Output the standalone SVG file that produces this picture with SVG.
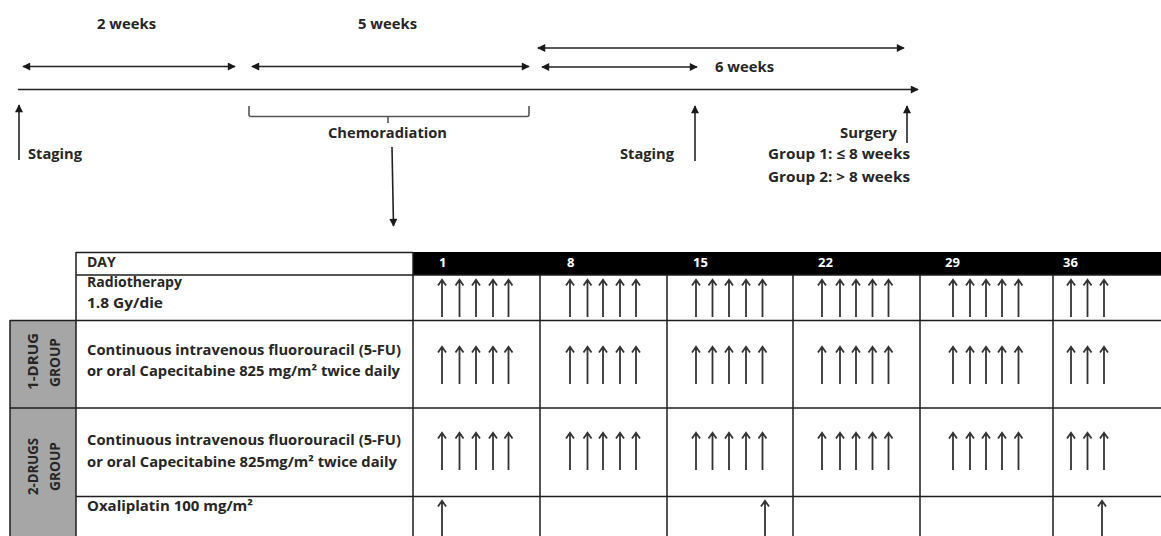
<svg xmlns="http://www.w3.org/2000/svg" width="1161" height="536" viewBox="0 0 1161 536">
<style>
  text { font-family: "Open Sans", "Liberation Sans", sans-serif; font-weight: 700; fill: #262626; }
  .t { font-size: 14.5px; }
  .tb { font-size: 14px; }
  .hd { font-size: 13px; fill: #fff; font-weight: 700; }
  .ln { stroke: #1e1e1e; stroke-width: 1.5; fill: none; }
  .tl { stroke: #222; stroke-width: 1.6; fill: none; }
  .ua { stroke: #333; stroke-width: 1.8; fill: none; }
  .br { stroke: #555; stroke-width: 1.6; fill: none; }
</style>
<defs>
  <marker id="tri" viewBox="0 0 10 10" refX="9" refY="5" markerWidth="9" markerHeight="8" markerUnits="userSpaceOnUse" orient="auto-start-reverse">
    <path d="M0,0 L10,5 L0,10 z" fill="#1a1a1a"/>
  </marker>
  <path id="ua" class="ua" d="M0,38 V0.8 M-4,6.5 L0,0.8 L4,6.5"/>
  <path id="ual" class="ua" d="M0,40 V0.8 M-4,6.5 L0,0.8 L4,6.5"/>
</defs>
<rect width="1161" height="536" fill="#fff"/>

<!-- timeline connectors -->
<g id="connectors">
  <line class="tl" x1="18" y1="89.5" x2="918" y2="89.5" marker-end="url(#tri)"/>
  <line class="tl" x1="23" y1="66.5" x2="235" y2="66.5" marker-start="url(#tri)" marker-end="url(#tri)"/>
  <line class="tl" x1="252" y1="66.5" x2="529" y2="66.5" marker-start="url(#tri)" marker-end="url(#tri)"/>
  <line class="tl" x1="542" y1="67" x2="697" y2="67" marker-start="url(#tri)" marker-end="url(#tri)"/>
  <line class="tl" x1="538" y1="48" x2="904" y2="48" marker-start="url(#tri)" marker-end="url(#tri)"/>
  <line class="tl" x1="19" y1="160" x2="19" y2="105" marker-end="url(#tri)"/>
  <line class="tl" x1="695" y1="161" x2="695" y2="106" marker-end="url(#tri)"/>
  <line class="tl" x1="907" y1="143" x2="907" y2="106" marker-end="url(#tri)"/>
  <path class="br" d="M249,106 V114.5 Q249,116.5 251,116.5 H527 Q529,116.5 529,114.5 V106 M388,116.5 V123"/>
  <line class="tl" x1="392" y1="147" x2="393.5" y2="226" marker-end="url(#tri)"/>
</g>

<!-- timeline labels -->
<g id="label-2weeks"><text class="t" x="97" y="29" textLength="59" lengthAdjust="spacingAndGlyphs">2 weeks</text></g>
<g id="label-5weeks"><text class="t" x="358" y="29" textLength="59" lengthAdjust="spacingAndGlyphs">5 weeks</text></g>
<g id="label-6weeks"><text class="t" x="715" y="71.5" textLength="59" lengthAdjust="spacingAndGlyphs">6 weeks</text></g>
<g id="label-staging1"><text class="t" x="28" y="159" textLength="54" lengthAdjust="spacingAndGlyphs">Staging</text></g>
<g id="label-chemoradiation"><text class="t" x="328" y="138" textLength="119" lengthAdjust="spacingAndGlyphs">Chemoradiation</text></g>
<g id="label-staging2"><text class="t" x="620" y="159" textLength="54" lengthAdjust="spacingAndGlyphs">Staging</text></g>
<g id="label-surgery">
  <text class="t" x="840" y="138" textLength="57" lengthAdjust="spacingAndGlyphs">Surgery</text>
  <text class="t" x="768" y="159" textLength="142" lengthAdjust="spacingAndGlyphs">Group 1: ≤ 8 weeks</text>
  <text class="t" x="768" y="181.5" textLength="142" lengthAdjust="spacingAndGlyphs">Group 2: &gt; 8 weeks</text>
</g>

<!-- table -->
<g id="table">
  <rect x="413" y="252" width="748" height="23" fill="#000"/>
  <rect x="10" y="320" width="66" height="216" fill="#a6a6a6"/>
  <path class="ln" d="M76,252.5 H413 M76,275 H1161 M10,320.5 H1161 M10,408 H1161 M76,496.5 H1161 M76,252 V536 M10,320 V536 M413,252 V536 M540,275 V536 M667,275 V536 M793,275 V536 M920,275 V536 M1053,275 V536"/>
</g>

<g id="row-day">
  <text class="tb" x="87" y="267">DAY</text>
  <text class="hd" x="439" y="267">1</text>
  <text class="hd" x="567" y="267">8</text>
  <text class="hd" x="693" y="267">15</text>
  <text class="hd" x="818" y="267">22</text>
  <text class="hd" x="945" y="267">29</text>
  <text class="hd" x="1063" y="267">36</text>
</g>

<g id="row-radiotherapy">
  <text class="tb" x="87" y="287" textLength="95" lengthAdjust="spacingAndGlyphs">Radiotherapy</text>
  <text class="tb" x="87" y="308" textLength="76" lengthAdjust="spacingAndGlyphs">1.8 Gy/die</text>
  <use href="#ua" x="442" y="279"/><use href="#ua" x="459.5" y="279"/><use href="#ua" x="476" y="279"/><use href="#ua" x="493" y="279"/><use href="#ua" x="508.5" y="279"/>
  <use href="#ua" x="570" y="279"/><use href="#ua" x="587.5" y="279"/><use href="#ua" x="603" y="279"/><use href="#ua" x="620" y="279"/><use href="#ua" x="636" y="279"/>
  <use href="#ua" x="696" y="279"/><use href="#ua" x="712.5" y="279"/><use href="#ua" x="729" y="279"/><use href="#ua" x="746" y="279"/><use href="#ua" x="762.5" y="279"/>
  <use href="#ua" x="822" y="279"/><use href="#ua" x="840" y="279"/><use href="#ua" x="856" y="279"/><use href="#ua" x="872.5" y="279"/><use href="#ua" x="888.5" y="279"/>
  <use href="#ua" x="953" y="279"/><use href="#ua" x="970" y="279"/><use href="#ua" x="986" y="279"/><use href="#ua" x="1002" y="279"/><use href="#ua" x="1018.5" y="279"/>
  <use href="#ua" x="1071" y="279"/><use href="#ua" x="1087.5" y="279"/><use href="#ua" x="1104" y="279"/>
</g>

<g id="group-1drug">
  <text class="tb" transform="translate(38,361.5) rotate(-90)" text-anchor="middle" textLength="57" lengthAdjust="spacingAndGlyphs">1-DRUG</text>
  <text class="tb" transform="translate(60,362.5) rotate(-90)" text-anchor="middle" textLength="49" lengthAdjust="spacingAndGlyphs">GROUP</text>
  <text class="tb" x="87" y="355" textLength="314" lengthAdjust="spacingAndGlyphs">Continuous intravenous fluorouracil (5-FU)</text>
  <text class="tb" x="87" y="376" textLength="313" lengthAdjust="spacingAndGlyphs">or oral Capecitabine 825 mg/m² twice daily</text>
  <use href="#ua" x="442" y="346"/><use href="#ua" x="459.5" y="346"/><use href="#ua" x="476" y="346"/><use href="#ua" x="493" y="346"/><use href="#ua" x="508.5" y="346"/>
  <use href="#ua" x="570" y="346"/><use href="#ua" x="587.5" y="346"/><use href="#ua" x="603" y="346"/><use href="#ua" x="620" y="346"/><use href="#ua" x="636" y="346"/>
  <use href="#ua" x="696" y="346"/><use href="#ua" x="712.5" y="346"/><use href="#ua" x="729" y="346"/><use href="#ua" x="746" y="346"/><use href="#ua" x="762.5" y="346"/>
  <use href="#ua" x="822" y="346"/><use href="#ua" x="840" y="346"/><use href="#ua" x="856" y="346"/><use href="#ua" x="872.5" y="346"/><use href="#ua" x="888.5" y="346"/>
  <use href="#ua" x="953" y="346"/><use href="#ua" x="970" y="346"/><use href="#ua" x="986" y="346"/><use href="#ua" x="1002" y="346"/><use href="#ua" x="1018.5" y="346"/>
  <use href="#ua" x="1071" y="346"/><use href="#ua" x="1087.5" y="346"/><use href="#ua" x="1104" y="346"/>
</g>

<g id="group-2drugs">
  <text class="tb" transform="translate(38,466.5) rotate(-90)" text-anchor="middle" textLength="57" lengthAdjust="spacingAndGlyphs">2-DRUGS</text>
  <text class="tb" transform="translate(60,466.5) rotate(-90)" text-anchor="middle" textLength="49" lengthAdjust="spacingAndGlyphs">GROUP</text>
  <text class="tb" x="87" y="445" textLength="314" lengthAdjust="spacingAndGlyphs">Continuous intravenous fluorouracil (5-FU)</text>
  <text class="tb" x="87" y="466.5" textLength="310" lengthAdjust="spacingAndGlyphs">or oral Capecitabine 825mg/m² twice daily</text>
  <use href="#ua" x="442" y="432"/><use href="#ua" x="459.5" y="432"/><use href="#ua" x="476" y="432"/><use href="#ua" x="493" y="432"/><use href="#ua" x="508.5" y="432"/>
  <use href="#ua" x="570" y="432"/><use href="#ua" x="587.5" y="432"/><use href="#ua" x="603" y="432"/><use href="#ua" x="620" y="432"/><use href="#ua" x="636" y="432"/>
  <use href="#ua" x="696" y="432"/><use href="#ua" x="712.5" y="432"/><use href="#ua" x="729" y="432"/><use href="#ua" x="746" y="432"/><use href="#ua" x="762.5" y="432"/>
  <use href="#ua" x="822" y="432"/><use href="#ua" x="840" y="432"/><use href="#ua" x="856" y="432"/><use href="#ua" x="872.5" y="432"/><use href="#ua" x="888.5" y="432"/>
  <use href="#ua" x="953" y="432"/><use href="#ua" x="970" y="432"/><use href="#ua" x="986" y="432"/><use href="#ua" x="1002" y="432"/><use href="#ua" x="1018.5" y="432"/>
  <use href="#ua" x="1071" y="432"/><use href="#ua" x="1087.5" y="432"/><use href="#ua" x="1104" y="432"/>
</g>

<g id="row-oxaliplatin">
  <text class="tb" x="87" y="511" textLength="166" lengthAdjust="spacingAndGlyphs">Oxaliplatin 100 mg/m²</text>
  <use href="#ual" x="442" y="500"/>
  <use href="#ual" x="765" y="500"/>
  <use href="#ual" x="1102" y="500"/>
</g>
</svg>
